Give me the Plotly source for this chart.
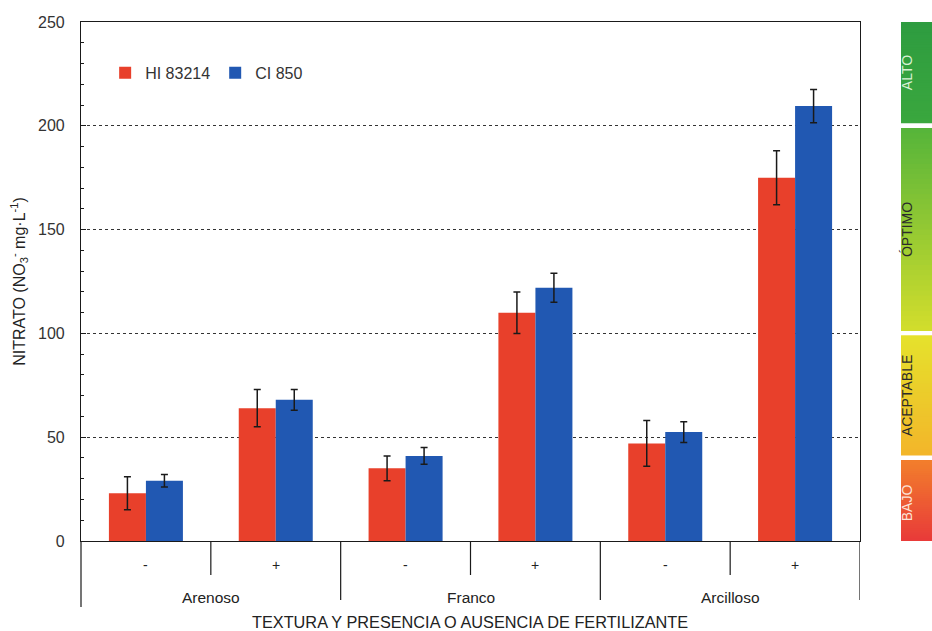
import plotly.graph_objects as go

# ---------------- data ----------------
textures = ["Arenoso", "Franco", "Arcilloso"]
fert = ["-", "+"]
categories = [f"{t} {f}" for t in textures for f in fert]

hi_values = [23, 64, 35, 110, 47, 175]
hi_err = [8, 9, 6, 10, 11, 13]
ci_values = [29, 68, 41, 122, 52.5, 209.5]
ci_err = [3, 5, 4, 7, 5, 8]

series_names = ["HI 83214", "CI 850"]

# reference scale (color bar at right)
level_names = ["BAJO", "ACEPTABLE", "ÓPTIMO", "ALTO"]
level_bounds = [-2, 40, 100, 200, 250]
level_colors = [("#E8363A", "#F27F2C"),   # bottom, top
                ("#F3B52A", "#E5E22C"),
                ("#D3DE2C", "#55B43A"),
                ("#3AA73E", "#2E9C40")]
level_text_colors = ["#FBE3D6", "#2B2B2B", "#2B2B2B", "#D9F0D4"]

y_ticks = [0, 50, 100, 150, 200, 250]

RED = "#E8402B"
BLUE = "#2158B2"
FONT = "Liberation Sans, Arial, sans-serif"

fig = go.Figure()
for name, vals, errs, col in [(series_names[0], hi_values, hi_err, RED),
                              (series_names[1], ci_values, ci_err, BLUE)]:
    fig.add_trace(go.Bar(
        x=categories, y=vals, name=name,
        marker=dict(color=col, line=dict(width=0)),
        error_y=dict(type="data", array=errs, visible=True,
                     color="#1a1a1a", thickness=1.5, width=3.5),
    ))

shapes = []
annotations = []

# separators below the axis
n = len(categories)
for i in range(n):
    xpos = i + 0.5
    long_line = (i % 2 == 1)
    shapes.append(dict(type="line", xref="x", yref="paper",
                       x0=xpos, x1=xpos, y0=0,
                       y1=-(59 / 519) if long_line else -(34 / 519),
                       line=dict(color="#1a1a1a", width=1.2)))
# left axis extension
shapes.append(dict(type="line", xref="paper", yref="paper", x0=0, x1=0,
                   y0=0, y1=-(66 / 519), line=dict(color="#1a1a1a", width=1.2)))

# sub-labels (- / +)
for c, (t, f) in zip(categories, [(t, f) for t in textures for f in fert]):
    annotations.append(dict(x=c, y=-(24 / 519), xref="x", yref="paper",
                            yanchor="middle", text=f, showarrow=False,
                            font=dict(family=FONT, size=14, color="#222")))
# group labels
for gi, t in enumerate(textures):
    annotations.append(dict(x=gi * 2 + 0.5, y=-(56 / 519), xref="x", yref="paper",
                            yanchor="middle", text=t, showarrow=False,
                            font=dict(family=FONT, size=15.5, color="#222")))
# x axis title
annotations.append(dict(x=(470 - 81) / 779, y=-(81 / 519), xref="paper", yref="paper",
                        yanchor="middle",
                        text="TEXTURA Y PRESENCIA O AUSENCIA DE FERTILIZANTE",
                        showarrow=False,
                        font=dict(family=FONT, size=16.3, color="#222")))


def hex2rgb(h):
    h = h.lstrip("#")
    return tuple(int(h[i:i + 2], 16) for i in (0, 2, 4))


# color level bar at right
bx0 = (901 - 81) / 779
bx1 = (932 - 81) / 779
gap = 1.2
for k, name in enumerate(level_names):
    lo = level_bounds[k] + (gap if k > 0 else 0)
    hi = level_bounds[k + 1] - (gap if k < len(level_names) - 1 else 0)
    c0 = hex2rgb(level_colors[k][0])
    c1 = hex2rgb(level_colors[k][1])
    steps = 40
    for s in range(steps):
        a = lo + (hi - lo) * s / steps
        t = (s + 0.5) / steps
        rgb = tuple(round(c0[j] + (c1[j] - c0[j]) * t) for j in range(3))
        shapes.append(dict(type="rect", xref="paper", yref="y",
                           x0=bx0, x1=bx1, y0=a, y1=hi,
                           fillcolor="rgb(%d,%d,%d)" % rgb,
                           line=dict(width=0), layer="above"))
    annotations.append(dict(x=(bx0 + bx1) / 2, y=(lo + hi) / 2, xref="paper", yref="y",
                            text=name, textangle=-90, showarrow=False,
                            font=dict(family=FONT, size=14,
                                      color=level_text_colors[k])))

fig.update_layout(
    width=932, height=631,
    margin=dict(l=81, r=72, t=22, b=90),
    paper_bgcolor="white", plot_bgcolor="white",
    barmode="group", bargap=0.43, bargroupgap=0,
    font=dict(family=FONT, size=15, color="#333"),
    showlegend=True,
    legend=dict(orientation="h", x=0.031, y=0.902, xanchor="left", yanchor="middle",
                bgcolor="rgba(0,0,0,0)", font=dict(family=FONT, size=16, color="#333"),
                itemwidth=30, traceorder="normal"),
    shapes=shapes, annotations=annotations,
    xaxis=dict(range=[-0.5, n - 0.5], showticklabels=False, ticks="",
               showline=True, linecolor="#1a1a1a", linewidth=1.2, mirror=True,
               showgrid=False, zeroline=False, fixedrange=True),
    yaxis=dict(range=[0, 250], tickvals=y_ticks, ticks="inside", ticklen=5,
               tickcolor="#1a1a1a", showline=True, linecolor="#1a1a1a",
               linewidth=1.2, mirror=True, ticklabelstandoff=12,
               showgrid=True, gridcolor="#333", griddash="dot", gridwidth=1,
               zeroline=False, tickfont=dict(family=FONT, size=16, color="#333"),
               minor=dict(dtick=10, ticks="inside", ticklen=3, tickcolor="#1a1a1a",
                          showgrid=False),
               title=dict(text="NITRATO (NO<sub>3</sub><sup>-</sup> mg·L<sup>-1</sup>)",
                          font=dict(family=FONT, size=16, color="#222"), standoff=8)),
)

fig.write_html("out.html")
